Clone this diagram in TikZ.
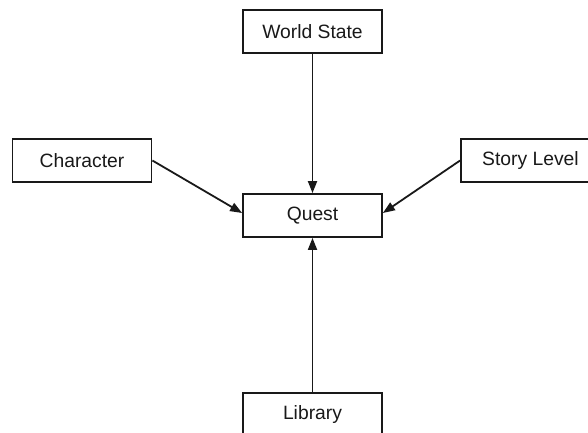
\documentclass[tikz,border=0pt]{standalone}
\usepackage{fontspec}
\setmainfont{Liberation Sans}
\usetikzlibrary{arrows.meta}
\begin{document}
\begin{tikzpicture}[x=1pt,y=-1pt,
  box/.style={draw=black!90, line width=1.8pt, minimum width=139pt, minimum height=43pt, inner sep=0pt,
    font=\fontsize{19.3}{22}\selectfont, text=black!90},
  conn/.style={draw=black!90, line width=1.8pt, -{Triangle[length=12pt,width=9pt]}}]
\useasboundingbox (0,0) rectangle (588,432);
\node[box] (ws) at (312.5,31.5) {World State};
\node[box] (ch) at (82,160.5) {Character};
\node[box] (sl) at (530.5,160.5) {Story Level};
\node[box] (q) at (312.5,215.5) {Quest};
\node[box] (lib) at (312.5,414.5) {Library};
\draw[conn] (ws.south) -- (q.north);
\draw[conn] (lib.north) -- (q.south);
\draw[conn] (ch.east) -- ([yshift=2.5pt]q.west);
\draw[conn] (sl.west) -- ([yshift=2.5pt]q.east);
\end{tikzpicture}
\end{document}
